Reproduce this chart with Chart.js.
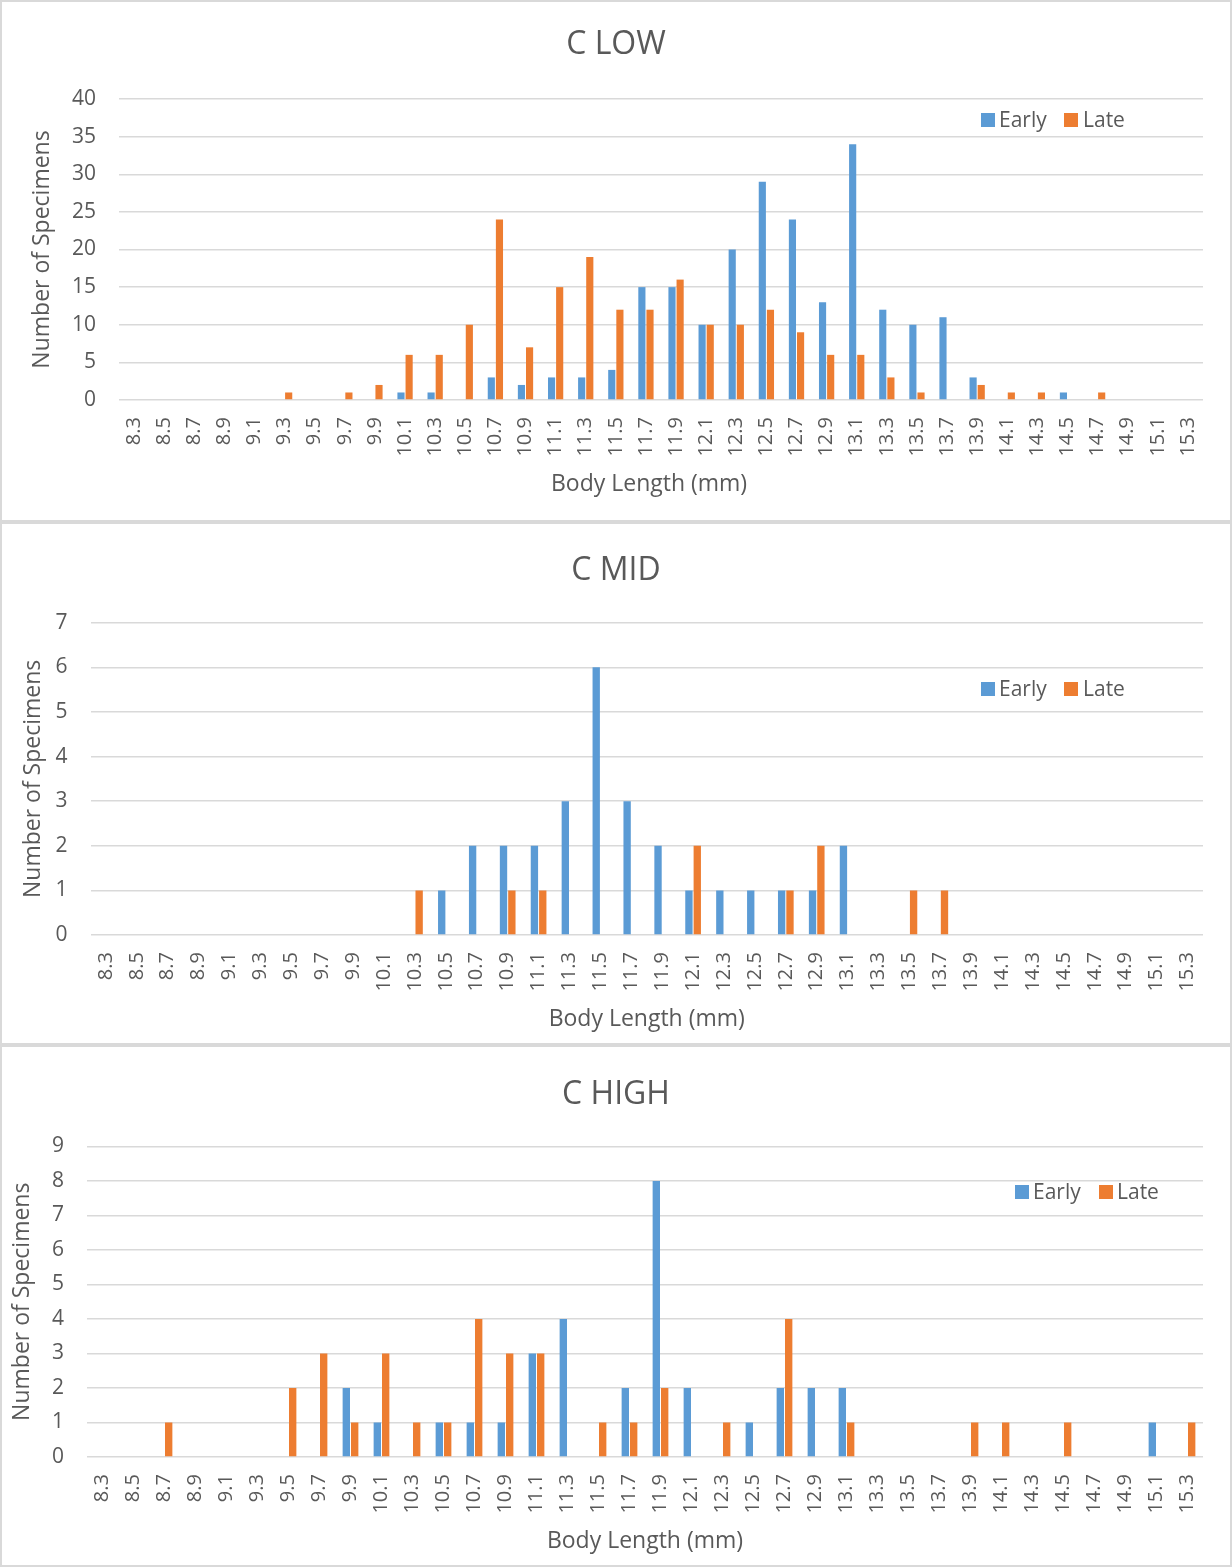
<!DOCTYPE html>
<html><head><meta charset="utf-8">
<script src="https://cdn.jsdelivr.net/npm/chart.js@4.4.1/dist/chart.umd.min.js"></script>
<style>
body{margin:0;background:#fff;width:1232px;height:1567px;position:relative;overflow:hidden;font-family:"Open Sans",sans-serif;}
canvas{position:absolute;left:0;}
.frame{position:absolute;left:0;width:1232px;box-sizing:border-box;border:2px solid #d9d9d9;pointer-events:none;}
.lt{position:absolute;font-size:21px;line-height:28.6px;color:#595959;white-space:nowrap;}
.sw{position:absolute;width:14px;height:14px;}
</style></head>
<body>
<canvas id="c1" width="1232" height="522" style="top:0px"></canvas>
<canvas id="c2" width="1232" height="523" style="top:522px"></canvas>
<canvas id="c3" width="1232" height="522" style="top:1045px"></canvas>
<div class="frame" style="top:0;height:522px"></div>
<div class="frame" style="top:522px;height:523px"></div>
<div class="frame" style="top:1045px;height:522px"></div>
<div id="legends"></div>
<script>
// ---- data ----
const categories = ['8.3','8.5','8.7','8.9','9.1','9.3','9.5','9.7','9.9','10.1','10.3','10.5','10.7','10.9','11.1','11.3','11.5','11.7','11.9','12.1','12.3','12.5','12.7','12.9','13.1','13.3','13.5','13.7','13.9','14.1','14.3','14.5','14.7','14.9','15.1','15.3'];
const seriesNames = ['Early','Late'];
const chartTitles = ['C LOW','C MID','C HIGH'];
const lowEarly = [0,0,0,0,0,0,0,0,0,1,1,0,3,2,3,3,4,15,15,10,20,29,24,13,34,12,10,11,3,0,0,1,0,0,0,0];
const lowLate  = [0,0,0,0,0,1,0,1,2,6,6,10,24,7,15,19,12,12,16,10,10,12,9,6,6,3,1,0,2,1,1,0,1,0,0,0];
const midEarly = [0,0,0,0,0,0,0,0,0,0,0,1,2,2,2,3,6,3,2,1,1,1,1,1,2,0,0,0,0,0,0,0,0,0,0,0];
const midLate  = [0,0,0,0,0,0,0,0,0,0,1,0,0,1,1,0,0,0,0,2,0,0,1,2,0,0,1,1,0,0,0,0,0,0,0,0];
const highEarly = [0,0,0,0,0,0,0,0,2,1,0,1,1,1,3,4,0,2,8,2,0,1,2,2,2,0,0,0,0,0,0,0,0,0,1,0];
const highLate  = [0,0,1,0,0,0,2,3,1,3,1,1,4,3,3,0,1,1,2,0,1,0,4,0,1,0,0,0,1,1,0,1,0,0,0,1];
const yMax = [40, 7, 9];
const yStep = [5, 1, 1];
const xTitle = 'Body Length (mm)';
const yTitle = 'Number of Specimens';

const TXT = '#595959';
const BLUE = '#5B9BD5', ORANGE = '#ED7D31';
Chart.defaults.font.family = "'Open Sans', sans-serif";

// layout params per chart
const L = [
  {id:'c1', early:lowEarly, late:lowLate, tpt:25.8, tpb:34.8, yw:90, ytp:-0.8, xh:102, pb:20, xt: xTitle + '    ',
   leg:{cy:120, s1:981, t1:999, s2:1064, t2:1083}},
  {id:'c2', early:midEarly, late:midLate, tpt:29.8, tpb:32.5, yw:61.5, ytp:-9.8, xh:102, pb:8, xt: xTitle,
   leg:{cy:689, s1:981, t1:999, s2:1064, t2:1083}},
  {id:'c3', early:highEarly, late:highLate, tpt:30.8, tpb:32.3, yw:58, ytp:-20.8, xh:102, pb:8, xt: xTitle,
   leg:{cy:1192, s1:1015, t1:1033, s2:1099, t2:1117}}
];

L.forEach((p, i) => {
  new Chart(document.getElementById(p.id), {
    type: 'bar',
    data: {
      labels: categories,
      datasets: [
        {label: seriesNames[0], data: p.early, backgroundColor: BLUE, categoryPercentage: 0.54, barPercentage: 0.88},
        {label: seriesNames[1], data: p.late, backgroundColor: ORANGE, categoryPercentage: 0.54, barPercentage: 0.88}
      ]
    },
    options: {
      responsive: false, animation: false, devicePixelRatio: 1,
      layout: {padding: {left: 29, right: 29, top: 0, bottom: p.pb}},
      plugins: {
        legend: {display: false},
        tooltip: {enabled: false},
        title: {display: true, text: chartTitles[i], color: TXT,
          font: {size: 32, weight: 'normal'}, padding: {top: p.tpt, bottom: p.tpb}}
      },
      scales: {
        x: {
          grid: {display: false, drawTicks: false}, border: {display: false},
          ticks: {color: TXT, font: {size: 20}, padding: 17, minRotation: 90, maxRotation: 90, autoSkip: false},
          title: {display: true, text: p.xt, color: TXT, font: {size: 23}, padding: {top: 4, bottom: 4}},
          afterFit: s => { s.height = p.xh; }
        },
        y: {
          min: 0, max: yMax[i],
          ticks: {stepSize: yStep[i], color: TXT, font: {size: 21}, padding: 23},
          grid: {color: '#d9d9d9', lineWidth: 1.5, drawTicks: false}, border: {display: false},
          title: {display: true, text: yTitle, color: TXT, font: {size: 23}, padding: {top: p.ytp, bottom: 4}},
          afterFit: s => { s.width = p.yw; }
        }
      }
    }
  });
  // HTML legend overlay
  const lg = p.leg;
  const host = document.getElementById('legends');
  const add = (cls, style, text) => { const d = document.createElement('div'); d.className = cls; d.setAttribute('style', style); if (text) d.textContent = text; host.appendChild(d); };
  add('sw', `left:${lg.s1}px;top:${lg.cy - 7}px;background:${BLUE}`);
  add('lt', `left:${lg.t1}px;top:${lg.cy - 15}px`, seriesNames[0]);
  add('sw', `left:${lg.s2}px;top:${lg.cy - 7}px;background:${ORANGE}`);
  add('lt', `left:${lg.t2}px;top:${lg.cy - 15}px`, seriesNames[1]);
});
</script>
</body></html>
